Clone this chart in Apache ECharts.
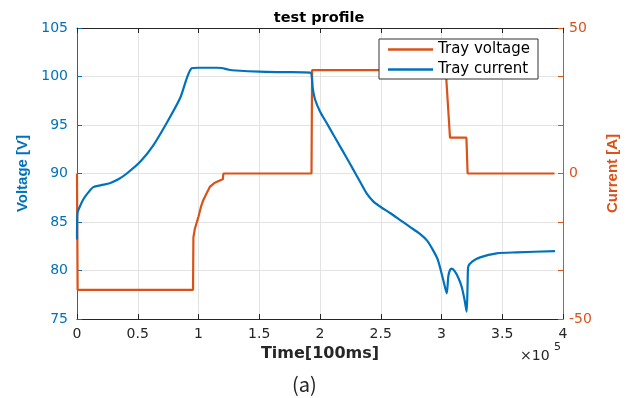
<!DOCTYPE html>
<html>
<head>
<meta charset="utf-8">
<script src="https://cdn.jsdelivr.net/npm/echarts@6/dist/echarts.min.js"></script>
<style>html,body{margin:0;padding:0;background:#fff}#c{width:638px;height:398px}</style>
</head>
<body>
<div id="c"></div>
<script>
// Time in units of 100 ms (axis shows ×10^5)
const voltageTime = [0, 300, 2000, 5000, 9000, 13400, 20000, 27000, 34000, 41000, 52000, 62800, 73800, 84800, 94400, 100000, 115000, 119000, 125000, 131000, 150000, 170000, 192000, 193500, 194000, 196000, 200000, 205500, 211000, 216500, 222000, 227400, 233000, 238400, 244000, 249400, 258000, 266000, 274000, 282000, 288000, 293000, 297000, 301500, 304300, 305600, 307000, 308400, 311000, 314000, 316600, 319000, 320700, 321500, 322000, 325000, 331700, 345400, 362000, 393400];
const voltageValues = [83.2, 85.9, 86.5, 87.3, 88.0, 88.6, 88.8, 89.0, 89.4, 90.0, 91.2, 92.9, 95.2, 97.75, 100.85, 100.9, 100.9, 100.88, 100.7, 100.62, 100.5, 100.45, 100.4, 99.6, 98.8, 97.6, 96.4, 95.2, 94.0, 92.8, 91.6, 90.4, 89.15, 87.95, 87.1, 86.6, 85.9, 85.2, 84.5, 83.8, 83.1, 82.1, 81.1, 79.0, 77.65, 79.4, 80.05, 80.2, 79.9, 79.2, 78.33, 76.96, 75.75, 78.7, 80.4, 80.9, 81.35, 81.77, 81.87, 82.0];
const currentTime = [0, 500, 95500, 95800, 97000, 100000, 102000, 104000, 107000, 109500, 113000, 118000, 120000, 120500, 193000, 193500, 303500, 307000, 320500, 321500, 393000];
const currentValues = [0, -40, -40, -22, -19, -14.8, -11.5, -9.1, -6.5, -4.5, -3.3, -2.3, -2.0, 0, 0, 35.5, 35.5, 12.3, 12.3, 0, 0];
const xTicks = [0, 50000, 100000, 150000, 200000, 250000, 300000, 350000, 400000];
const leftTicks = [75, 80, 85, 90, 95, 100, 105];
const rightTicks = [-50, 0, 50];

const BLUE = '#0072BD', ORANGE = '#D95319', DARK = '#262626';
const pair = (xs, ys) => xs.map((x, i) => [x, ys[i]]);
const LINE_ICON = 'path://M0,0 L45,0 L45,2.4 L0,2.4 Z';

const chart = echarts.init(document.getElementById('c'));
chart.setOption({
  animation: false,
  backgroundColor: '#fff',
  title: {
    text: 'test profile', left: 'center', top: 6,
    textStyle: { fontFamily: 'DejaVu Sans', fontWeight: 'bold', fontSize: 14.5, color: '#000' }
  },
  grid: { left: 77, right: 75, top: 28, bottom: 79 },
  legend: {
    data: [{ name: 'Tray voltage', icon: LINE_ICON }, { name: 'Tray current', icon: LINE_ICON }],
    orient: 'vertical', left: 379, top: 39,
    itemWidth: 45, itemHeight: 14, itemGap: 5,
    padding: [3, 8, 2, 9],
    borderColor: '#333', borderWidth: 1, backgroundColor: '#fff',
    textStyle: { fontFamily: 'DejaVu Sans', fontSize: 15, color: '#000' }
  },
  xAxis: [{
    type: 'value', min: xTicks[0], max: xTicks[xTicks.length - 1], interval: xTicks[1] - xTicks[0],
    position: 'bottom',
    axisLine: { show: true, onZero: false, lineStyle: { color: DARK } },
    axisTick: { show: true, inside: true, length: 5, lineStyle: { color: DARK } },
    axisLabel: { formatter: v => String(+(v / 1e5).toFixed(2)), fontFamily: 'DejaVu Sans', fontSize: 14, color: DARK, margin: 8 },
    splitLine: { show: true, lineStyle: { color: '#e3e3e3' } },
    name: 'Time[100ms]', nameLocation: 'middle', nameGap: 25,
    nameTextStyle: { fontFamily: 'DejaVu Sans', fontWeight: 'bold', fontSize: 16, color: DARK }
  }, {
    type: 'value', min: xTicks[0], max: xTicks[xTicks.length - 1], interval: xTicks[1] - xTicks[0],
    position: 'top',
    axisLine: { show: true, onZero: false, lineStyle: { color: DARK } },
    axisTick: { show: true, inside: true, length: 5, lineStyle: { color: DARK } },
    axisLabel: { show: false }, splitLine: { show: false }
  }],
  yAxis: [{
    type: 'value', min: leftTicks[0], max: leftTicks[leftTicks.length - 1], interval: leftTicks[1] - leftTicks[0],
    position: 'left',
    axisLine: { show: true, onZero: false, lineStyle: { color: BLUE } },
    axisTick: { show: true, inside: true, length: 5, lineStyle: { color: BLUE } },
    axisLabel: { fontFamily: 'DejaVu Sans', fontSize: 14, color: BLUE, margin: 9 },
    splitLine: { show: true, lineStyle: { color: '#e3e3e3' } },
    name: 'Voltage [V]', nameLocation: 'middle', nameGap: 42,
    nameTextStyle: { fontFamily: 'Liberation Sans', fontWeight: 'bold', fontSize: 15, color: BLUE }
  }, {
    type: 'value', min: rightTicks[0], max: rightTicks[rightTicks.length - 1], interval: rightTicks[1] - rightTicks[0],
    position: 'right',
    axisLine: { show: true, onZero: false, lineStyle: { color: ORANGE } },
    axisTick: { show: true, inside: true, length: 5, lineStyle: { color: ORANGE } },
    minorTick: { show: true, splitNumber: 3, length: 5, lineStyle: { color: ORANGE } },
    axisLabel: { fontFamily: 'DejaVu Sans', fontSize: 14, color: ORANGE, margin: 6 },
    splitLine: { show: false },
    name: 'Current [A]', nameLocation: 'middle', nameGap: 42,
    nameTextStyle: { fontFamily: 'Liberation Sans', fontWeight: 'bold', fontSize: 15, color: ORANGE }
  }],
  series: [{
    name: 'Tray voltage', type: 'line', yAxisIndex: 1, xAxisIndex: 0,
    data: pair(currentTime, currentValues),
    symbol: 'none', lineStyle: { color: ORANGE, width: 2.2 }, itemStyle: { color: ORANGE }, z: 2
  }, {
    name: 'Tray current', type: 'line', yAxisIndex: 0, xAxisIndex: 0,
    data: pair(voltageTime, voltageValues),
    symbol: 'none', smooth: 0.25, lineStyle: { color: BLUE, width: 2.2 }, itemStyle: { color: BLUE }, z: 3
  }],
  graphic: [
    { type: 'text', left: 520, top: 349, style: { text: '×10', font: '14px "DejaVu Sans"', fill: DARK } },
    { type: 'text', left: 554, top: 342, style: { text: '5', font: '11px "DejaVu Sans"', fill: DARK } },
    { type: 'text', left: 292, top: 374, style: { text: '(a)', font: '20px "Noto Sans CJK KR"', fill: '#222' } }
  ]
});
</script>
</body>
</html>
